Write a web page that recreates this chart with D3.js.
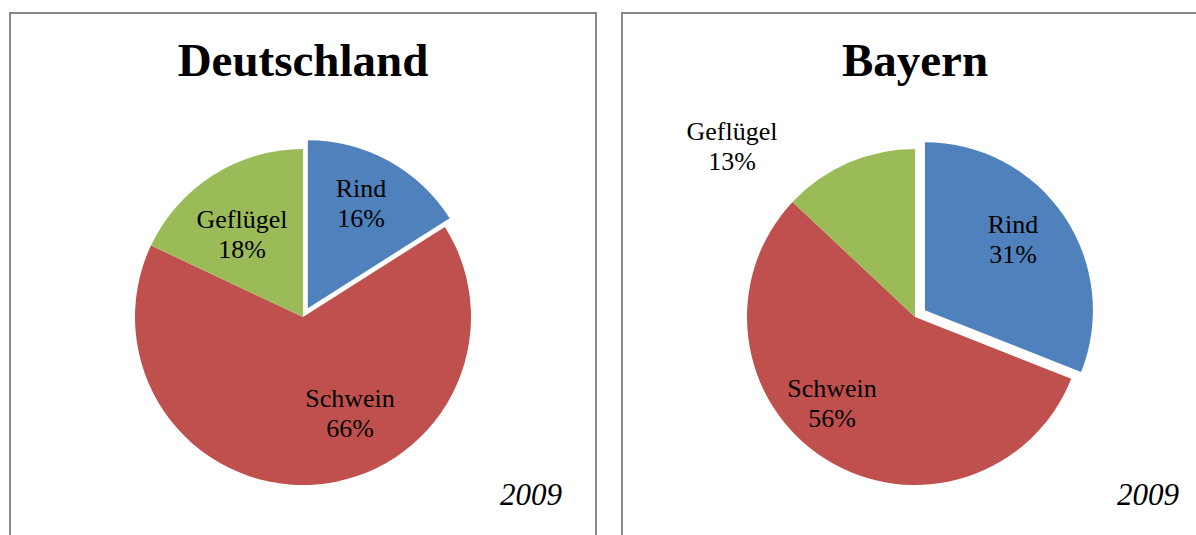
<!DOCTYPE html>
<html>
<head>
<meta charset="utf-8">
<script src="https://cdn.jsdelivr.net/npm/d3@7"></script>
<style>
  body { margin: 0; background: #fff; }
  svg { display: block; }
  text { font-family: "Liberation Serif", "Times New Roman", "DejaVu Serif", serif; fill: #000; }
</style>
</head>
<body>
<div id="chart"></div>
<script>
// data
var categories = ["Rind", "Schwein", "Geflügel"];
var regions = ["Deutschland", "Bayern"];
var deutschland = [16, 66, 18];
var bayern = [31, 56, 13];
var year = "2009";

var colors = ["#4f81bd", "#c0504d", "#9bbb59"];

var width = 1196;
var height = 535;

var svg = d3.select("#chart")
    .append("svg")
    .attr("width", width)
    .attr("height", height);

// layout for each panel (position, explode distance, label offsets from centre)
var panels = [
    { x: 10, w: 586, cx: 303, cy: 317, explode: 10,
      labels: [[58, -120], [47, 90], [-61, -89]] },
    { x: 622, w: 590, cx: 915, cy: 317, explode: 12,
      labels: [[98, -84], [-83, 80], [-183, -177]] }
];
var values = [deutschland, bayern];

var radius = 168;
var pie = d3.pie().sort(null).value(function(d) { return d; });
var arc = d3.arc().innerRadius(0).outerRadius(radius);

function chart(i) {
    var p = panels[i];
    var g = svg.append("g");

    g.append("rect")
        .attr("x", p.x)
        .attr("y", 13)
        .attr("width", p.w)
        .attr("height", height + 20)
        .attr("fill", "none")
        .attr("stroke", "#888")
        .attr("stroke-width", 2);

    g.append("text")
        .attr("x", p.cx)
        .attr("y", 76)
        .attr("text-anchor", "middle")
        .attr("font-size", 47)
        .attr("font-weight", "bold")
        .text(regions[i]);

    var arcs = pie(values[i]);
    var pieG = g.append("g").attr("transform", "translate(" + p.cx + "," + p.cy + ")");

    pieG.selectAll("path")
        .data(arcs)
        .enter()
        .append("path")
        .attr("d", arc)
        .attr("fill", function(d, j) { return colors[j]; })
        .attr("transform", function(d, j) {
            // first slice (Rind) is pulled out
            if (j != 0) return null;
            var a = (d.startAngle + d.endAngle) / 2;
            return "translate(" + (Math.sin(a) * p.explode) + "," + (-Math.cos(a) * p.explode) + ")";
        });

    for (var j = 0; j < arcs.length; j++) {
        var t = pieG.append("text")
            .attr("text-anchor", "middle")
            .attr("font-size", 26);
        t.append("tspan")
            .attr("x", p.labels[j][0])
            .attr("y", p.labels[j][1])
            .text(categories[j]);
        t.append("tspan")
            .attr("x", p.labels[j][0])
            .attr("y", p.labels[j][1] + 30)
            .text(values[i][j] + "%");
    }

    g.append("text")
        .attr("x", i == 0 ? 562 : 1179)
        .attr("y", 505)
        .attr("text-anchor", "end")
        .attr("font-size", 31)
        .attr("font-style", "italic")
        .text(year);
}

chart(0);
chart(1);
</script>
</body>
</html>
